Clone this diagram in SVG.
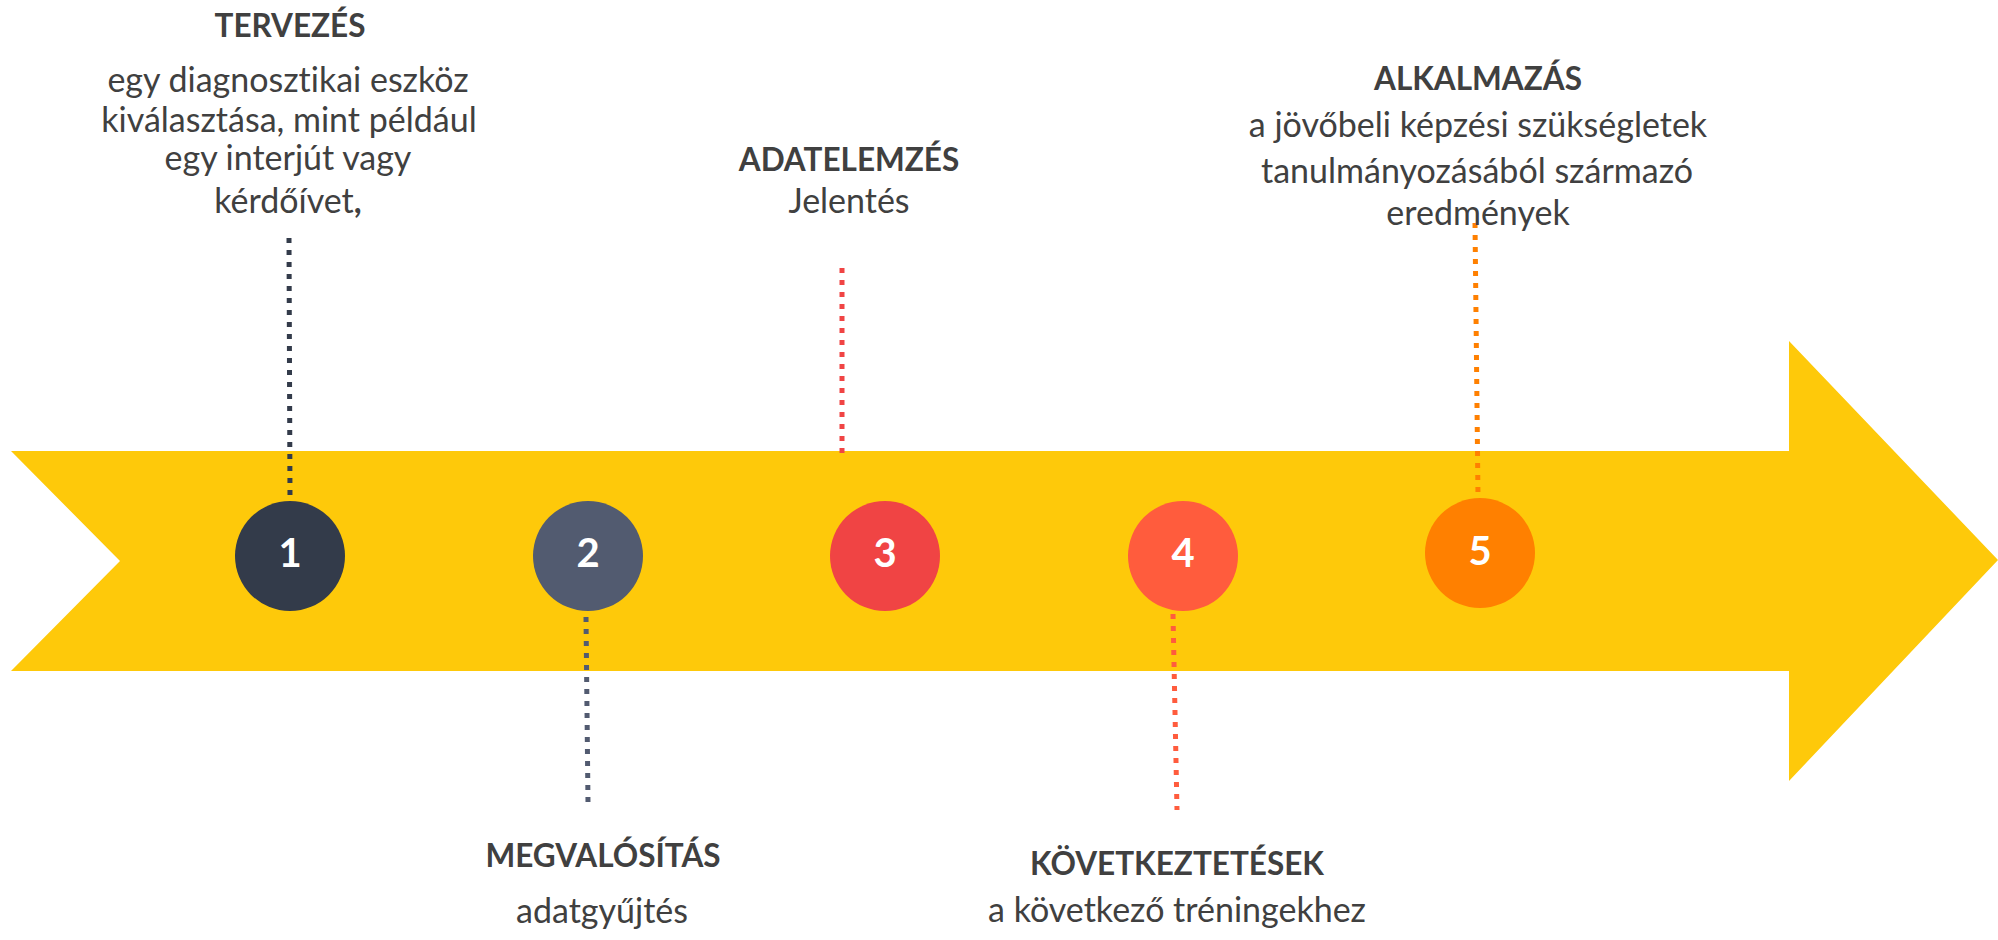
<svg xmlns="http://www.w3.org/2000/svg" width="1998" height="940" viewBox="0 0 1998 940">
<style>
text{font-variant-ligatures:none;font-feature-settings:"liga" 0,"dlig" 0}
.h{font-family:Lato,"Liberation Sans",sans-serif;font-weight:bold;font-size:31.5px;fill:#404040;text-anchor:middle}
.b{font-family:Lato,"Liberation Sans",sans-serif;font-size:34px;fill:#404040;text-anchor:middle}
.n{font-family:Lato,"Liberation Sans",sans-serif;font-weight:bold;font-size:40px;fill:#fff;text-anchor:middle}
.d{fill:none;stroke-width:5;stroke-dasharray:5 7}
</style>
<rect width="1998" height="940" fill="#fff"/>
<polygon id="arrow" points="11,451 1789,451 1789,341 1998,560 1789,781 1789,671 11,671 120,561" fill="#FEC90A"/>
<g id="connectors">
<line class="d" x1="289" y1="238" x2="290" y2="500" stroke="#333B4A"/>
<line class="d" x1="586" y1="617" x2="588" y2="803" stroke="#525B70"/>
<line class="d" x1="842" y1="268" x2="842" y2="455" stroke="#F04444"/>
<line class="d" x1="1173" y1="614" x2="1177" y2="810" stroke="#FF5C3D"/>
<line class="d" x1="1475" y1="223" x2="1478" y2="497" stroke="#FF8000"/>
</g>
<g id="node1">
<circle cx="290" cy="556" r="55" fill="#333B4A"/>
<text class="n" x="290" y="567">1</text>
<text class="h" x="290" y="37">TERVEZÉS</text>
<text class="b" x="288" y="92">egy diagnosztikai eszköz</text>
<text class="b" x="289" y="132">kiválasztása, mint például</text>
<text class="b" x="288" y="170">egy interjút vagy</text>
<text class="b" x="288" y="213">kérdőívet<tspan font-weight="bold">,</tspan></text>
</g>
<g id="node2">
<circle cx="588" cy="556" r="55" fill="#525B70"/>
<text class="n" x="588" y="567">2</text>
<text class="h" x="603" y="867">MEGVALÓSÍTÁS</text>
<text class="b" x="602" y="923">adatgyűjtés</text>
</g>
<g id="node3">
<circle cx="885" cy="556" r="55" fill="#F04444"/>
<text class="n" x="885" y="567">3</text>
<text class="h" x="849" y="171">ADATELEMZÉS</text>
<text class="b" x="849" y="213">Jelentés</text>
</g>
<g id="node4">
<circle cx="1183" cy="556" r="55" fill="#FF5C3D"/>
<text class="n" x="1183" y="567">4</text>
<text class="h" x="1177" y="875">KÖVETKEZTETÉSEK</text>
<text class="b" x="1177" y="922">a következő tréningekhez</text>
</g>
<g id="node5">
<circle cx="1480" cy="553" r="55" fill="#FF8000"/>
<text class="n" x="1480" y="565">5</text>
<text class="h" x="1478" y="90">ALKALMAZÁS</text>
<text class="b" x="1478" y="137">a jövőbeli képzési szükségletek</text>
<text class="b" x="1477" y="183">tanulmányozásából származó</text>
<text class="b" x="1478" y="225">eredmények</text>
</g>
</svg>
